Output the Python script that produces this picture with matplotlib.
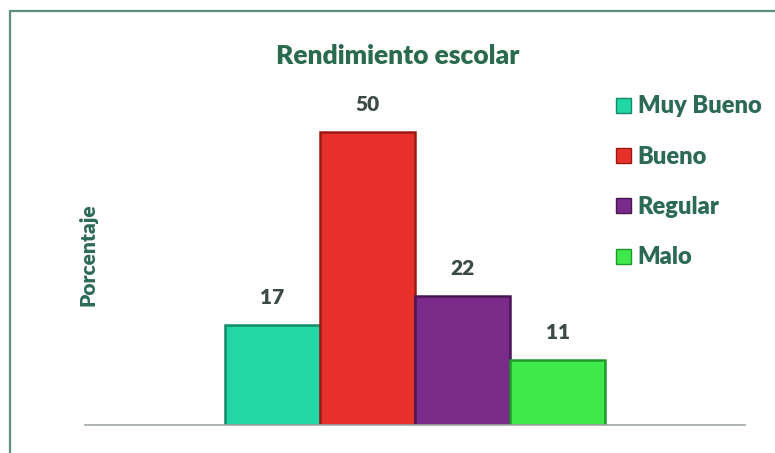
import matplotlib
matplotlib.use("Agg")
import matplotlib.pyplot as plt
from matplotlib.patches import Rectangle, Patch

categories = ["Muy Bueno", "Bueno", "Regular", "Malo"]
values = [17, 50, 22, 11]
colors = ["#22d6a6", "#e8302a", "#7a2a88", "#3fe94c"]
edges = ["#138a66", "#9c1a16", "#4a1555", "#1f9a2a"]
title = "Rendimiento escolar"
ylabel = "Porcentaje"

W, H = 775, 453
fig = plt.figure(figsize=(W / 100, H / 100), dpi=100)
fig.patch.set_facecolor("white")

# outer border (only left/top visible in reference)
fig.patches.append(Rectangle((10 / W, -0.2), 1.2, (H - 11) / H + 0.2,
                             transform=fig.transFigure, fill=False,
                             edgecolor="#5e8f7c", linewidth=1.6))

ax = fig.add_axes([85 / W, 28 / H, 660 / W, 352 / H])
x = list(range(len(values)))
ax.bar(x, values, width=1.0, color=colors, edgecolor=edges, linewidth=1.8)
ax.set_xlim(-1.97, 4.97)
ax.set_ylim(0, 60)
for s in ["top", "right", "left"]:
    ax.spines[s].set_visible(False)
ax.spines["bottom"].set_color("#a0a8a4")
ax.spines["bottom"].set_linewidth(1.2)
ax.set_xticks([])
ax.set_yticks([])

font = "Lato"
weight = "heavy"
txt_color = "#2c6a55"
for xi, v in zip(x, values):
    ax.annotate(str(v), (xi, v), xytext=(0, 13), textcoords="offset points",
                ha="center", va="bottom", fontsize=15, fontweight=weight,
                color="#3b4a42", family=font)

fig.text(398 / W, 1 - 56 / H, title, ha="center", va="center",
         fontsize=19, fontweight=weight, color="#2a6a4e", family=font)
fig.text(88 / W, 1 - 255 / H, ylabel, ha="center", va="center",
         rotation=90, fontsize=15, fontweight=weight, color=txt_color,
         family=font)

handles = [Patch(facecolor=c, edgecolor=e) for c, e in zip(colors, edges)]
leg = fig.legend(handles, categories, loc="upper left",
                 bbox_to_anchor=(607 / W, 1 - 86 / H), frameon=False,
                 prop={"family": font, "size": 17, "weight": weight},
                 handlelength=0.6, handleheight=0.6, handletextpad=0.3,
                 labelspacing=1.2, borderaxespad=0)
for t in leg.get_texts():
    t.set_color(txt_color)

fig.savefig("out.png", dpi=100)
